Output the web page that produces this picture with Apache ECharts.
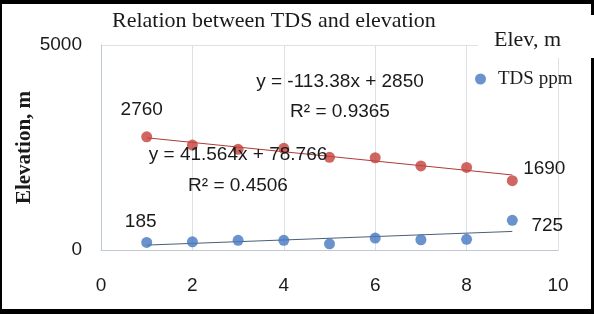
<!DOCTYPE html>
<html>
<head>
<meta charset="utf-8">
<script src="https://cdn.jsdelivr.net/npm/echarts@6/dist/echarts.min.js"></script>
<style>
html, body { margin: 0; padding: 0; background: #fff; }
#chart { width: 594px; height: 314px; }
</style>
</head>
<body>
<div id="chart"></div>
<script>
// sample number along x (1..9)
var xValues = [1, 2, 3, 4, 5, 6, 7, 8, 9];
// elevation, m (red)
var elevValues = [2760, 2560, 2455, 2480, 2260, 2250, 2050, 2015, 1690];
// TDS ppm (blue)
var tdsValues = [185, 200, 235, 235, 150, 290, 250, 260, 725];
// linear trend end points, from the equations printed on the chart
var elevTrend = [[1, 2737], [9, 1830]]; // y = -113.38x + 2850
var tdsTrend = [[1, 120], [9, 453]];    // y = 41.564x + 78.766
var elevEq = ["y = -113.38x + 2850", "R\u00b2 = 0.9365"];
var tdsEq = ["y = 41.564x + 78.766", "R\u00b2 = 0.4506"];

var numFont = "'Liberation Sans', Arial, sans-serif";
var numSize = 19;
var serifFont = "'Liberation Serif', 'Times New Roman', serif";
var txtColor = "#1a1a1a";

var myChart = echarts.init(document.getElementById("chart"));

// label only the first and last point of each series
function buildData(values, firstOffset, lastOffset) {
  var out = [];
  for (var i = 0; i < xValues.length; i++) {
    var item = { value: [xValues[i], values[i]] };
    if (i === 0 || i === xValues.length - 1) {
      item.label = {
        show: true,
        offset: i === 0 ? firstOffset : lastOffset
      };
    }
    out.push(item);
  }
  return out;
}

var pointLabel = {
  show: false,
  position: "inside",
  formatter: function (p) { return p.value[1]; },
  color: txtColor,
  opacity: 1,
  textBorderWidth: 0,
  fontFamily: numFont,
  fontSize: numSize
};

function eqText(x, y, text) {
  return {
    type: "text",
    x: x,
    y: y,
    z: 10,
    style: {
      text: text,
      align: "center",
      verticalAlign: "middle",
      fontFamily: numFont,
      fontSize: numSize,
      fill: txtColor
    }
  };
}

var option = {
  animation: false,
  backgroundColor: "#fff",
  title: {
    text: "Relation between TDS and elevation",
    left: 107,
    top: 5,
    textStyle: {
      fontFamily: serifFont,
      fontSize: 22,
      fontWeight: "normal",
      color: txtColor
    }
  },
  legend: {
    orient: "vertical",
    left: 470,
    top: 24,
    itemGap: 17,
    itemWidth: 11,
    itemHeight: 11,
    z: 40,
    data: [
      { name: "Elev, m", icon: "none", textStyle: { padding: [0, 0, 0, 3], fontSize: 22 } },
      { name: "TDS ppm", icon: "circle", textStyle: { padding: [0, 0, 0, 7] } }
    ],
    textStyle: {
      fontFamily: serifFont,
      fontSize: 19,
      lineHeight: 22,
      color: txtColor
    }
  },
  grid: {
    left: 101,
    right: 36,
    top: 45,
    bottom: 64,
    containLabel: false
  },
  xAxis: {
    type: "value",
    min: 0,
    max: 10,
    interval: 2,
    axisLine: { show: true, lineStyle: { color: "#bfc7d0" } },
    axisTick: { show: false },
    axisLabel: { margin: 26, color: txtColor, fontFamily: numFont, fontSize: numSize },
    splitLine: { show: true, lineStyle: { color: "#dde1e6" } }
  },
  yAxis: {
    type: "value",
    min: 0,
    max: 5000,
    interval: 5000,
    name: "Elevation, m",
    nameLocation: "middle",
    nameRotate: 90,
    nameGap: 66,
    nameMoveOverlap: false,
    nameTextStyle: {
      fontFamily: serifFont,
      fontSize: 21,
      fontWeight: "bold",
      color: txtColor
    },
    axisLine: { show: true, lineStyle: { color: "#bfc7d0" } },
    axisTick: { show: false },
    axisLabel: {
      margin: 19,
      color: txtColor,
      fontFamily: numFont,
      fontSize: numSize,
      formatter: function (v) { return String(v); }
    },
    splitLine: { show: true, lineStyle: { color: "#dde1e6" } }
  },
  series: [
    {
      name: "Elev, m",
      type: "scatter",
      symbolSize: 11,
      itemStyle: { color: "#c4403b" },
      label: pointLabel,
      data: buildData(elevValues, [-5, -27], [32, -12]),
      z: 3
    },
    {
      name: "TDS ppm",
      type: "scatter",
      symbolSize: 11,
      itemStyle: { color: "#4578c0" },
      label: pointLabel,
      data: buildData(tdsValues, [-6, -21], [35, 5]),
      z: 3
    },
    {
      name: "elevTrend",
      type: "line",
      data: elevTrend,
      showSymbol: false,
      lineStyle: { color: "#b03a36", width: 1 },
      z: 2
    },
    {
      name: "tdsTrend",
      type: "line",
      data: tdsTrend,
      showSymbol: false,
      lineStyle: { color: "#4a5f7a", width: 1 },
      z: 2
    }
  ],
  graphic: [
    // outer black frame
    { type: "rect", z: 30, shape: { x: 0, y: 0, width: 2, height: 314 }, style: { fill: "#000" } },
    { type: "rect", z: 30, shape: { x: 0, y: 0, width: 594, height: 4 }, style: { fill: "#000" } },
    { type: "rect", z: 30, shape: { x: 591, y: 0, width: 3, height: 314 }, style: { fill: "#000" } },
    { type: "rect", z: 30, shape: { x: 0, y: 309, width: 594, height: 5 }, style: { fill: "#000" } },
    // white legend box that covers the frame and grid top right
    { type: "rect", z: 31, shape: { x: 478, y: 15, width: 116, height: 43 }, style: { fill: "#fff" } },
    eqText(340, 82, elevEq[0]),
    eqText(340, 112, elevEq[1]),
    eqText(238, 155, tdsEq[0]),
    eqText(238, 186, tdsEq[1])
  ]
};

myChart.setOption(option);
</script>
</body>
</html>
